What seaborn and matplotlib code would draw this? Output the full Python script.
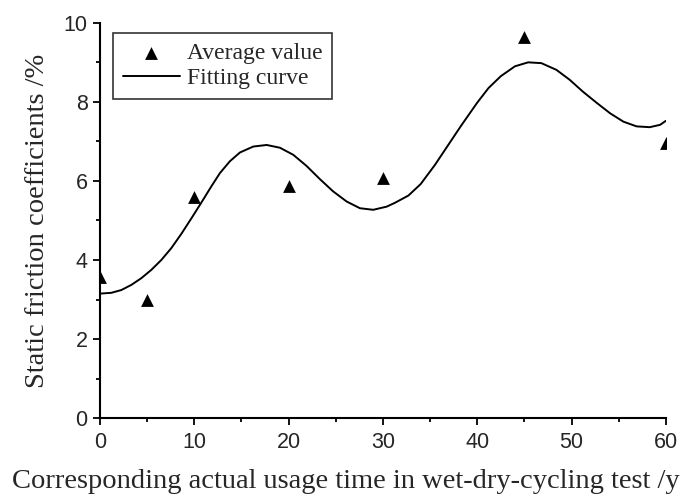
import numpy as np
import pandas as pd
import matplotlib
matplotlib.use('Agg')
import matplotlib.pyplot as plt
from matplotlib.ticker import MultipleLocator
import seaborn as sns

# measured averages
years = [0, 5, 10, 20, 30, 45, 60]
avg_value = [3.58, 3.0, 5.6, 5.87, 6.07, 9.65, 6.96]

# fitting curve
fit_x = [0.0, 1.2, 2.26, 3.32, 4.38, 5.44, 6.5, 7.56, 8.62, 9.68, 10.74, 11.8,
         12.72, 13.78, 14.84, 16.25, 17.67, 19.08, 20.5, 21.9, 23.3, 24.7, 26.15,
         27.56, 28.97, 30.4, 31.3, 32.7, 34.0, 35.5, 36.9, 38.3, 40.0, 41.2, 42.5,
         44.0, 45.4, 46.8, 48.4, 49.8, 51.2, 52.7, 54.1, 55.5, 56.9, 58.3, 59.4, 60.0]
fit_y = [3.15, 3.17, 3.24, 3.37, 3.54, 3.75, 4.0, 4.3, 4.66, 5.05, 5.45, 5.86,
         6.2, 6.5, 6.72, 6.87, 6.91, 6.84, 6.66, 6.38, 6.05, 5.74, 5.48,
         5.31, 5.27, 5.35, 5.45, 5.63, 5.92, 6.4, 6.9, 7.4, 7.98, 8.35, 8.65,
         8.9, 9.0, 8.98, 8.81, 8.56, 8.26, 7.97, 7.71, 7.5, 7.38, 7.36, 7.42, 7.52]

pts = pd.DataFrame({'x': years, 'y': avg_value})
fit = pd.DataFrame({'x': fit_x, 'y': fit_y})

sns.set_style('ticks')
plt.rcParams['font.family'] = ['Liberation Sans', 'DejaVu Sans']

fig, ax = plt.subplots(figsize=(6.85, 4.96), dpi=100)
fig.subplots_adjust(left=0.146, right=0.972, top=0.954, bottom=0.157)

sns.scatterplot(data=pts, x='x', y='y', marker='^', color='black', s=85,
                edgecolor='black', linewidth=0, ax=ax, label='Average value', zorder=3)
sns.lineplot(data=fit, x='x', y='y', color='black', linewidth=1.4, sort=False,
             estimator=None, ax=ax, label='Fitting curve')
ax.lines[-1].set_solid_joinstyle('round')

ax.set_xlim(0, 60)
ax.set_ylim(0, 10)
ax.xaxis.set_major_locator(MultipleLocator(10))
ax.xaxis.set_minor_locator(MultipleLocator(5))
ax.yaxis.set_major_locator(MultipleLocator(2))
ax.yaxis.set_minor_locator(MultipleLocator(1))
ax.tick_params(which='major', direction='out', length=5, width=1.3, labelsize=15.5,
               color='black', pad=5)
ax.tick_params(axis='y', which='major', pad=4)
ax.tick_params(which='minor', direction='out', length=3, width=1.3, color='black')
for s in ['left', 'bottom']:
    ax.spines[s].set_linewidth(1.5)
    ax.spines[s].set_color('black')
sns.despine(ax=ax)

serif = ['Liberation Serif', 'DejaVu Serif']
ax.set_xlabel('Corresponding actual usage time in wet-dry-cycling test /y',
              family=serif, fontsize=20.5)
ax.xaxis.set_label_coords(0.434, -0.128)
ax.set_ylabel('Static friction coefficients /%', family=serif, fontsize=20.5, labelpad=10)

leg = ax.legend(loc='upper left', bbox_to_anchor=(0.023, 0.975), frameon=True, fancybox=False,
                prop={'family': serif, 'size': 17}, handlelength=2.4, borderpad=0.42,
                labelspacing=0.15, handletextpad=0.3, borderaxespad=0)
leg.get_frame().set_edgecolor('black')
leg.get_frame().set_linewidth(1.2)

fig.savefig('out.png', dpi=100)
